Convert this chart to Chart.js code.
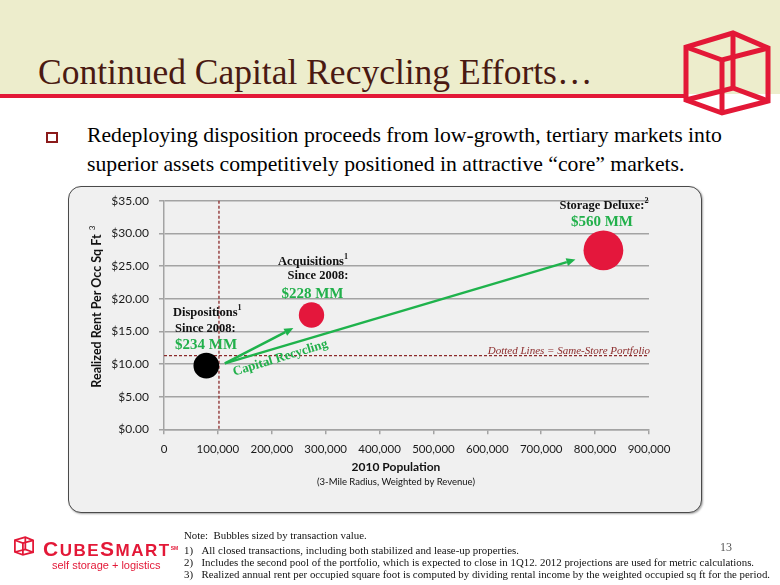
<!DOCTYPE html>
<html>
<head>
<meta charset="utf-8">
<script src="https://cdn.jsdelivr.net/npm/chart.js@4.4.1/dist/chart.umd.min.js"></script>
<style>
html,body{margin:0;padding:0;background:#fff;}
#page{position:relative;width:780px;height:585px;overflow:hidden;background:#fff;}
.abs{position:absolute;white-space:nowrap;line-height:1;}
.serif{font-family:"Liberation Serif","Times New Roman",serif;}
.sans{font-family:"Liberation Sans",Arial,sans-serif;}
.cal{font-family:Lato,"Open Sans",sans-serif;}
.c{transform:translate(-50%,-50%);}
.lc{transform:translate(0,-50%);}
.rc{transform:translate(-100%,-50%);}
.green{color:#22b04b;font-weight:bold;}
.lbl{font-weight:bold;color:#111;}
sup{font-size:65%;vertical-align:top;position:relative;top:-2px;}
.fn{font-size:10.85px;color:#111;}
</style>
</head>
<body>
<div id="page">
  <!-- header band -->
  <div class="abs" style="left:0;top:0;width:780px;height:94px;background:#ededcc;"></div>
  <div class="abs" style="left:0;top:94px;width:686px;height:3.5px;background:#e31837;"></div>
  <svg class="abs" style="left:683px;top:30px;" width="88" height="86" viewBox="-3 -3 88 86">
    <g fill="none" stroke="#e31837" stroke-width="5" stroke-linejoin="miter">
      <polygon points="47,0 0,14 0,67 36,80 82,68 82,15"/>
      <polyline points="0,14 36,27 82,15"/>
      <line x1="36" y1="27" x2="36" y2="80"/>
      <line x1="47" y1="0" x2="47" y2="55"/>
      <polyline points="0,67 47,55 82,68"/>
    </g>
  </svg>
  <div class="abs serif" style="left:38px;top:55px;font-size:35.5px;color:#4a1a12;">Continued Capital Recycling Efforts…</div>

  <!-- bullet -->
  <div class="abs" style="left:46px;top:132px;width:8px;height:7px;border:2px solid #8b1a1a;"></div>
  <div class="abs serif" style="left:87px;top:121.3px;font-size:21.7px;line-height:28.7px;color:#000;">Redeploying disposition proceeds from low-growth, tertiary markets into<br>superior assets competitively positioned in attractive “core” markets.</div>

  <!-- chart box -->
  <div class="abs" style="left:68px;top:186px;width:632px;height:325px;background:#f0f0f0;border:1.5px solid #4a4a4a;border-radius:13px;box-shadow:1px 1px 2px rgba(0,0,0,0.35);"></div>

  <canvas id="chart" width="780" height="585" style="position:absolute;left:0;top:0;"></canvas>

  <!-- axis titles -->
  <div class="abs cal" style="left:97px;top:311px;font-size:12.5px;font-weight:bold;color:#111;transform:translate(-50%,-50%) rotate(-90deg);">Realized Rent Per Occ Sq Ft</div>
  <div class="abs cal" style="left:91.5px;top:228px;font-size:8px;color:#111;transform:translate(-50%,-50%) rotate(-90deg);">3</div>
  <div class="abs cal c" style="left:396px;top:467px;font-size:12px;font-weight:bold;color:#111;">2010 Population</div>
  <div class="abs cal c" style="left:396px;top:482px;font-size:9.5px;color:#111;">(3-Mile Radius, Weighted by Revenue)</div>

  <!-- annotations -->
  <div class="abs serif lbl c" style="left:604px;top:205px;font-size:12.5px;">Storage Deluxe:<sup>2</sup></div>
  <div class="abs serif green c" style="left:602px;top:221px;font-size:15px;">$560 MM</div>
  <div class="abs serif lbl c" style="left:313px;top:261px;font-size:12.5px;">Acquisitions<sup>1</sup></div>
  <div class="abs serif lbl c" style="left:318px;top:275px;font-size:12.5px;">Since 2008:</div>
  <div class="abs serif green c" style="left:312.5px;top:293px;font-size:15px;">$228 MM</div>
  <div class="abs serif lbl lc" style="left:173px;top:312px;font-size:12.5px;">Dispositions<sup>1</sup></div>
  <div class="abs serif lbl lc" style="left:175px;top:327.5px;font-size:12.5px;">Since 2008:</div>
  <div class="abs serif green lc" style="left:175px;top:343.5px;font-size:15px;">$234 MM</div>
  <div class="abs serif green" style="left:280px;top:357px;font-size:13px;transform:translate(-50%,-50%) rotate(-17deg);">Capital Recycling</div>
  <div class="abs serif rc" style="left:650px;top:350px;font-size:11px;font-style:italic;color:#8b2a2a;">Dotted Lines = Same-Store Portfolio</div>

  <!-- footer -->
  <svg class="abs" style="left:14px;top:536px;" width="20" height="20" viewBox="-4 -4 90 88">
    <g fill="none" stroke="#e31837" stroke-width="8">
      <polygon points="47,0 0,14 0,67 36,80 82,68 82,15"/>
      <polyline points="0,14 36,27 82,15"/>
      <line x1="36" y1="27" x2="36" y2="80"/>
      <line x1="47" y1="0" x2="47" y2="55"/>
      <polyline points="0,67 47,55 82,68"/>
    </g>
  </svg>
  <div class="abs sans" style="left:43px;top:538px;font-size:21px;line-height:21px;font-weight:bold;color:#e31837;letter-spacing:1.5px;">C<span style="font-size:17px;">UBE</span>S<span style="font-size:17px;">MART</span><span style="font-size:5px;vertical-align:top;letter-spacing:0;">SM</span></div>
  <div class="abs sans" style="left:52px;top:560px;font-size:11px;color:#e31837;">self storage + logistics</div>

  <div class="abs serif fn" style="left:184px;top:529.9px;">Note:&nbsp; Bubbles sized by transaction value.</div>
  <div class="abs serif fn" style="left:184px;top:545.4px;">1)</div>
  <div class="abs serif fn" style="left:201.5px;top:545.4px;">All closed transactions, including both stabilized and lease-up properties.</div>
  <div class="abs serif fn" style="left:184px;top:556.9px;">2)</div>
  <div class="abs serif fn" style="left:201.5px;top:556.9px;">Includes the second pool of the portfolio, which is expected to close in 1Q12. 2012 projections are used for metric calculations.</div>
  <div class="abs serif fn" style="left:184px;top:568.9px;">3)</div>
  <div class="abs serif fn" style="left:201.5px;top:568.9px;">Realized annual rent per occupied square foot is computed by dividing rental income by the weighted occupied sq ft for the period.</div>
  <div class="abs serif c" style="left:726px;top:547px;font-size:12px;color:#555;">13</div>
</div>

<script>
// ---- data ----
const bubbleNames = ['Dispositions', 'Acquisitions', 'Storage Deluxe'];
const population = [78500, 273700, 815400];          // 2010 population (3-mile radius)
const rentPerSqFt = [9.75, 17.5, 27.4];              // realized rent per occupied sq ft
const transactionValueMM = [234, 228, 560];          // bubble size
const bubbleColors = ['#000000', '#e4173c', '#e4173c'];
const sameStorePopulation = 102000;
const sameStoreRent = 11.3;
const arrowStart = [113000, 10.1];
const arrowEnds = [[240000, 15.5], [763500, 26.0]];
const xMin = 0, xMax = 900000, xStep = 100000;
const yMin = 0, yMax = 35, yStep = 5;

const fmtPop = v => String(v).replace(/\B(?=(\d{3})+(?!\d))/g, ',');
const fmtRent = v => '$' + Number(v).toFixed(2);

const overlay = {
  id: 'overlay',
  beforeDatasetsDraw(chart) {
    const { ctx, chartArea: a, scales: { x, y } } = chart;
    ctx.save();
    ctx.strokeStyle = '#8b2a2a';
    ctx.lineWidth = 1.3;
    ctx.setLineDash([3, 2]);
    const px = x.getPixelForValue(sameStorePopulation);
    ctx.beginPath(); ctx.moveTo(px, a.top); ctx.lineTo(px, a.bottom); ctx.stroke();
    const py = y.getPixelForValue(sameStoreRent);
    ctx.beginPath(); ctx.moveTo(a.left, py); ctx.lineTo(a.right, py); ctx.stroke();
    ctx.restore();
  },
  afterDatasetsDraw(chart) {
    const { ctx, scales: { x, y } } = chart;
    ctx.save();
    ctx.strokeStyle = '#1fb34c';
    ctx.fillStyle = '#1fb34c';
    ctx.lineWidth = 2.5;
    const sx = x.getPixelForValue(arrowStart[0]), sy = y.getPixelForValue(arrowStart[1]);
    arrowEnds.forEach(([ex, ey]) => {
      const tx = x.getPixelForValue(ex), ty = y.getPixelForValue(ey);
      const ang = Math.atan2(ty - sy, tx - sx);
      const hl = 9, hw = 4;
      const bx = tx - hl * Math.cos(ang), by = ty - hl * Math.sin(ang);
      ctx.beginPath(); ctx.moveTo(sx, sy); ctx.lineTo(bx, by); ctx.stroke();
      ctx.beginPath();
      ctx.moveTo(tx, ty);
      ctx.lineTo(bx + hw * Math.sin(ang), by - hw * Math.cos(ang));
      ctx.lineTo(bx - hw * Math.sin(ang), by + hw * Math.cos(ang));
      ctx.closePath(); ctx.fill();
    });
    ctx.restore();
  }
};

const gridColor = '#a3a3a3';
new Chart(document.getElementById('chart'), {
  type: 'bubble',
  data: {
    datasets: [{
      label: 'Transactions',
      data: population.map((p, i) => ({ x: p, y: rentPerSqFt[i], r: 0.84 * Math.sqrt(transactionValueMM[i]) })),
      backgroundColor: bubbleColors,
      borderWidth: 0,
      hoverRadius: 0
    }]
  },
  options: {
    responsive: false,
    animation: false,
    events: [],
    layout: { padding: { left: 104, right: 131, top: 200.8, bottom: 125.7 } },
    plugins: { legend: { display: false }, tooltip: { enabled: false } },
    scales: {
      x: {
        type: 'linear', min: xMin, max: xMax,
        afterFit(s) { s.height = 30; },
        ticks: { stepSize: xStep, padding: 8, maxRotation: 0, autoSkip: false, color: '#1a1a1a',
                 font: { family: 'Lato', size: 11.5 }, callback: fmtPop },
        grid: { drawOnChartArea: false, drawTicks: true, tickLength: 5, color: gridColor, lineWidth: 1.5 },
        border: { color: gridColor, width: 1.5 }
      },
      y: {
        type: 'linear', min: yMin, max: yMax,
        afterFit(s) { s.width = 60; },
        ticks: { stepSize: yStep, padding: 10, color: '#1a1a1a',
                 font: { family: 'Lato', size: 12 }, callback: fmtRent },
        grid: { color: gridColor, lineWidth: 1.5, tickLength: 5 },
        border: { color: gridColor, width: 1.5 }
      }
    }
  },
  plugins: [overlay]
});
</script>
</body>
</html>
